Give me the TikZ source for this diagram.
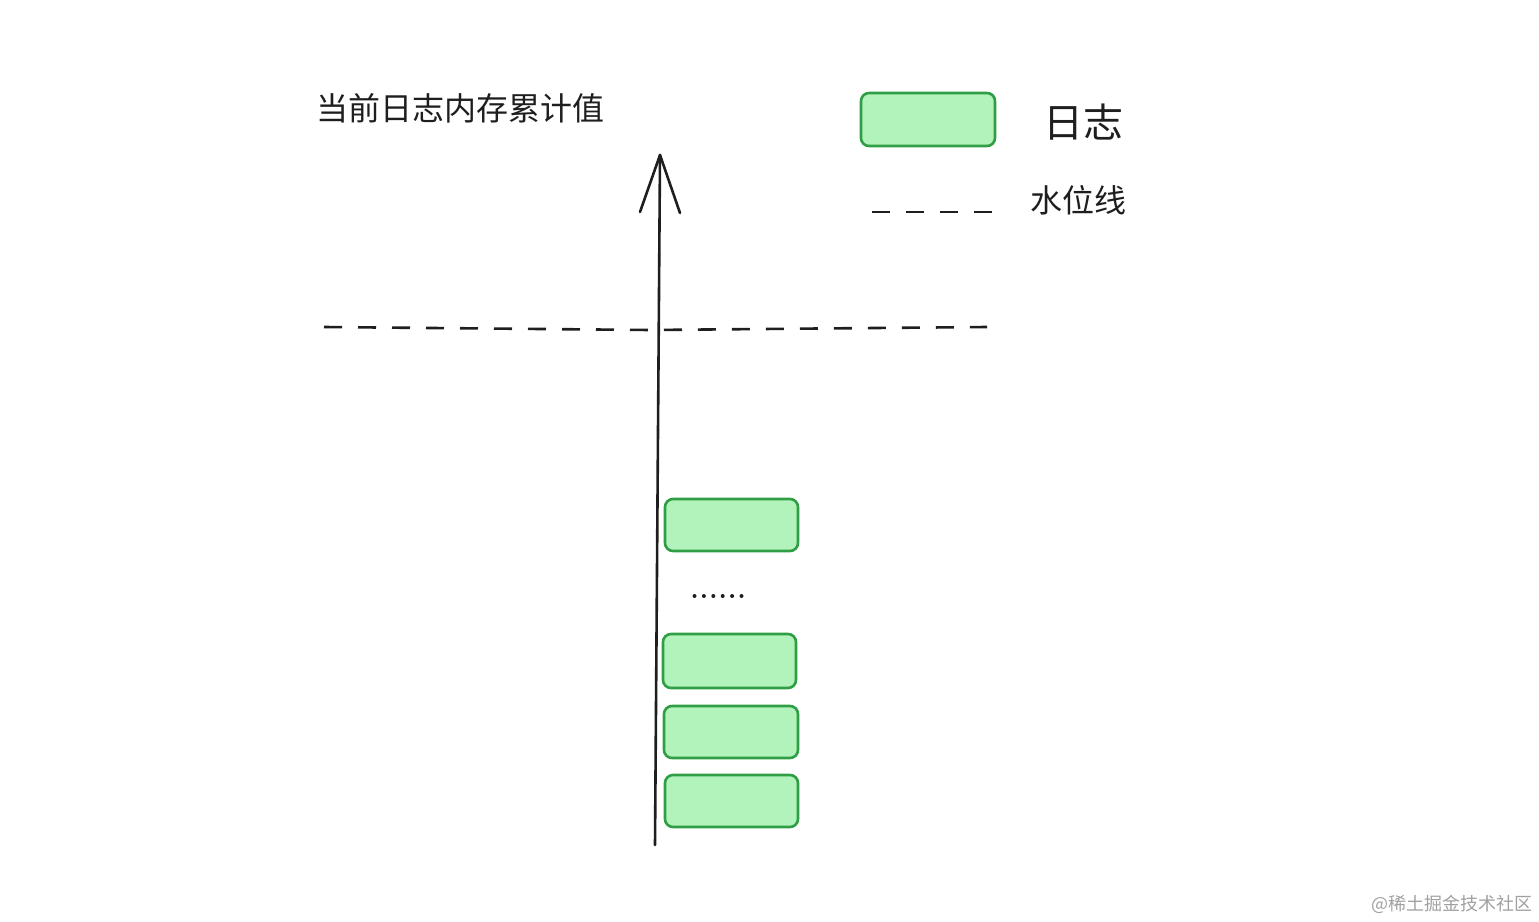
\documentclass[tikz,border=0pt]{standalone}
\usepackage{fontspec}
\newfontfamily\cjk{Noto Sans CJK SC}
\definecolor{ink}{HTML}{1E1E1E}
\definecolor{logfill}{HTML}{B2F2BB}
\definecolor{logdraw}{HTML}{2F9E44}
\definecolor{wm}{HTML}{A0A0A0}
\begin{document}
\begin{tikzpicture}[x=1pt,y=-1pt,
  logbox/.style={draw=logdraw,fill=logfill,line width=2.6pt,rounded corners=8pt},
  lbl/.style={text=ink,inner sep=0pt,anchor=west,font=\cjk},
  wline/.style={draw=ink,line width=2.6pt,dash pattern=on 18pt off 16pt},
  axis/.style={draw=ink,line width=2.6pt,line cap=round}]
\useasboundingbox (0,0) rectangle (1539,921);
% title
\node[lbl,font=\cjk\fontsize{32}{32}\selectfont] (title) at (316,108) {当前日志内存累计值};
% legend
\draw[logbox] (861,93) rectangle (995,146);
\node (legbox) at (928,119.5) {};
\node[lbl,font=\cjk\fontsize{40}{40}\selectfont] (legtext) at (1043,122) {日志};
\coordinate (ld1) at (872,212);
\coordinate (ld2) at (995,212);
\draw[wline] (ld1) -- (ld2);
\node[lbl,font=\cjk\fontsize{32}{32}\selectfont] (legline) at (1030,200) {水位线};
% axis
\coordinate (a0) at (655,845);
\coordinate (a1) at (660,155);
\coordinate (h1) at (640,212);
\coordinate (h2) at (680,213);
\draw[axis] (a0) -- (a1);
\draw[axis,line join=round] (h1) -- (a1) -- (h2);
% water level line
\coordinate (w0) at (324,327);
\coordinate (w1) at (650,330);
\coordinate (w2) at (987,327);
\draw[wline] (w0) -- (w1) -- (w2);
% log boxes
\draw[logbox] (665,499) rectangle (798,551);
\draw[logbox] (663,634) rectangle (796,688);
\draw[logbox] (664,706) rectangle (798,758);
\draw[logbox] (665,775) rectangle (798,827);
% dots
\foreach \i in {0,...,5} {\fill[ink] (694.5+\i*9.4,596) circle (2pt);}
% watermark
\node[lbl,anchor=east,text=wm,font=\cjk\fontsize{18}{18}\selectfont] (wmark) at (1533,904) {@稀土掘金技术社区};
\end{tikzpicture}
\end{document}
